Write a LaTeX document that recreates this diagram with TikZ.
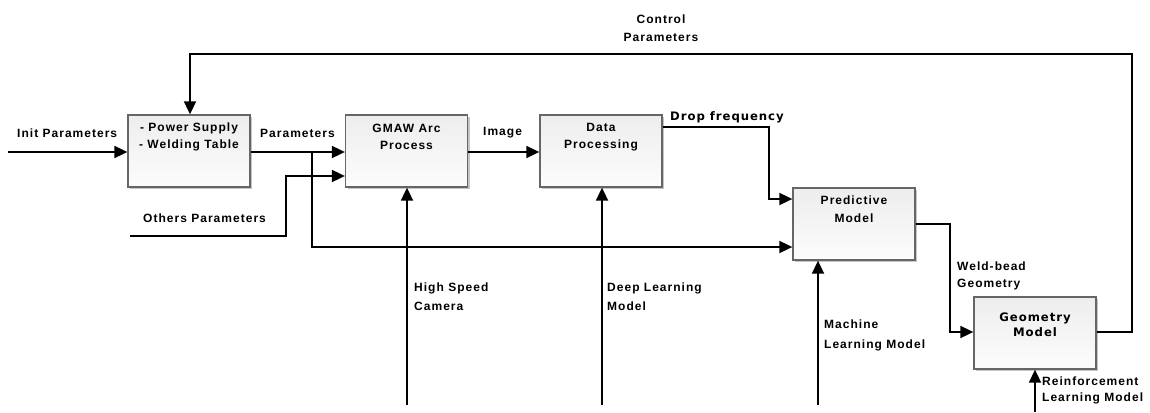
\documentclass[tikz,border=0pt]{standalone}
\usepackage{fontspec}
\usetikzlibrary{arrows.meta,shadows}
\newfontfamily\lblfont[LetterSpace=8.5]{Liberation Sans Bold}
\newfontfamily\dvfont[LetterSpace=8]{DejaVu Sans Bold}
\tikzset{
  x=1pt, y=-1pt,
  blk/.style={draw=black!60, line width=1.3pt, minimum width=122pt, minimum height=72pt,
    inner sep=0pt, top color=black!7, bottom color=black!1,
    drop shadow={opacity=0.45, shadow xshift=2pt, shadow yshift=-2pt}},
  blktext/.style={align=center, inner sep=0pt, font=\lblfont\fontsize{12}{17.5}\selectfont},
  lbl/.style={align=left, inner sep=0pt, anchor=west, font=\lblfont\fontsize{12}{19}\selectfont},
  wire/.style={line width=1.8pt, -{Triangle[length=13pt,width=12pt]}},
}
\begin{document}
\begin{tikzpicture}
\useasboundingbox (0,0) rectangle (1150,412);

% blocks
\node[blk] (ps)   at (189,151) {};
\node[blk] (gmaw) at (406.5,151) {};
\node[blk] (dp)   at (601,151) {};
\node[blk] (pm)   at (854,224) {};
\node[blk] (gm)   at (1035,333) {};

\node[blktext] (pst) at (189,137) {- Power Supply\\- Welding Table};
\node[blktext] (gmawt) at (406.5,137) {GMAW Arc\\Process};
\node[blktext] (dpt) at (601,137) {Data\\Processing};
\node[blktext] (pmt) at (854,209) {Predictive\\Model};
\node[blktext, font=\dvfont\fontsize{11.7}{15}\selectfont] (gmt) at (1035,324.5) {Geometry\\Model};

% free ends of the input lines
\coordinate (initsrc) at (8,152);
\coordinate (othsrc) at (130,236);
\coordinate (camsrc) at (407,405);
\coordinate (dlsrc) at (602,405);
\coordinate (mlsrc) at (818,405);
\coordinate (rlsrc) at (1035,412);
\coordinate (split) at (312,152);

% connectors
\draw[wire] (initsrc) -- (initsrc -| ps.west);
\draw[wire] (ps.east |- initsrc) -- (gmaw.west |- initsrc);
\draw[wire] (split) |- (pm.west |- 0,247);
\draw[wire] (othsrc) -- (286,236) |- (gmaw.west |- 0,176);
\draw[wire] (gmaw.east |- initsrc) -- (dp.west |- initsrc);
\draw[wire] (dp.east |- 0,127) -- (769,127) |- (pm.west |- 0,199);
\draw[wire] (camsrc) -- (camsrc |- gmaw.south);
\draw[wire] (dlsrc) -- (dlsrc |- dp.south);
\draw[wire] (mlsrc) -- (mlsrc |- pm.south);
\draw[wire] (pm.east |- 0,224) -- (950,224) |- (gm.west |- 0,332);
\draw[wire] (rlsrc) -- (rlsrc |- gm.south);
\draw[wire] (gm.east |- 0,332) -- (1132,332) -- (1132,54) -- (190,54) -- (190,54 |- ps.north);

% labels
\node[lbl] (l1) at (17,133) {Init Parameters};
\node[lbl] (l2) at (260,133) {Parameters};
\node[lbl] (l3) at (143,218) {Others Parameters};
\node[lbl] (l4) at (483,133) {Image};
\node[lbl, font=\dvfont\fontsize{11.7}{19}\selectfont] (l5) at (670,117) {Drop frequency};
\node[lbl] (l6) at (414,296.5) {High Speed\\Camera};
\node[lbl] (l7) at (607,296.5) {Deep Learning\\Model};
\node[lbl, font=\lblfont\fontsize{12}{20}\selectfont] (l8) at (824,335) {Machine\\Learning Model};
\node[lbl, font=\lblfont\fontsize{12}{17.5}\selectfont] (l9) at (957,276) {Weld-bead\\Geometry};
\node[lbl, font=\lblfont\fontsize{12}{16}\selectfont] (l10) at (1042,390) {Reinforcement\\Learning Model};
\node[blktext, font=\lblfont\fontsize{12}{18.5}\selectfont] (l11) at (661,28) {Control\\Parameters};
\end{tikzpicture}
\end{document}
